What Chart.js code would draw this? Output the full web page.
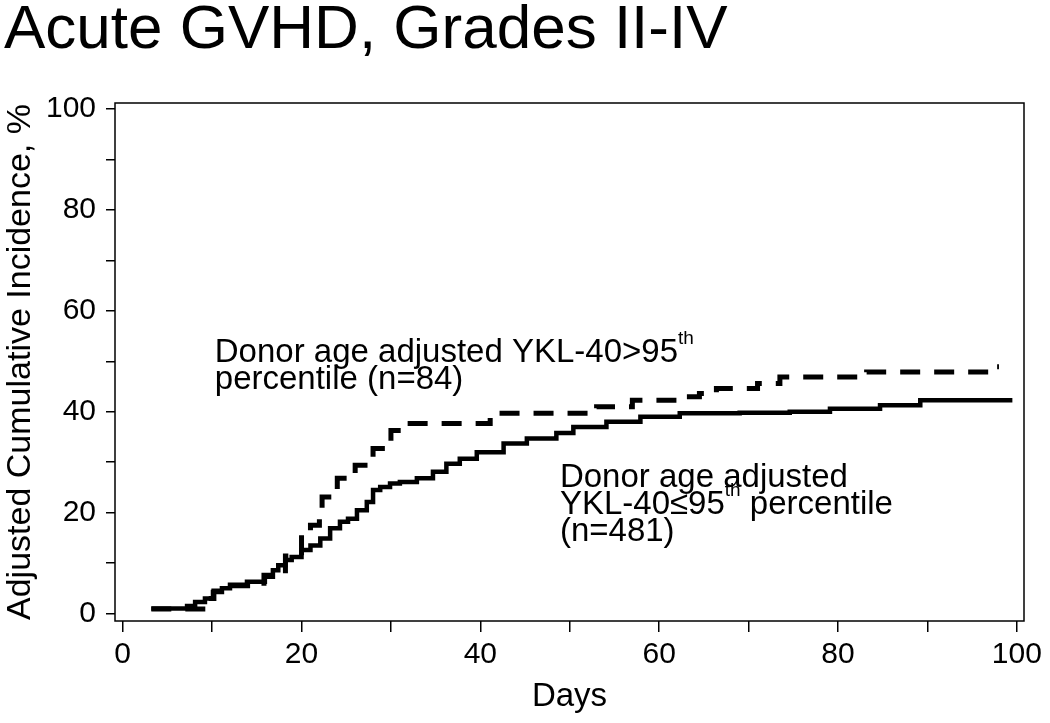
<!DOCTYPE html>
<html>
<head>
<meta charset="utf-8">
<script src="https://cdn.jsdelivr.net/npm/chart.js@4.4.1/dist/chart.umd.min.js"></script>
<style>
  body { margin: 0; background: #fff; }
</style>
</head>
<body>
<canvas id="chart" width="1050" height="723"></canvas>
<script>
// Adjusted cumulative incidence (%) by day, step points = (event day, new value)
const lowDays = [3.2, 7.2, 8.1, 9.2, 10.1, 11.1, 12.0, 13.9, 15.9, 16.8, 17.4, 18.2, 18.9, 20.0, 21.0, 22.1, 23.2, 24.3, 25.2, 26.2, 27.3, 28.0, 28.8, 29.9, 31.0, 32.9, 34.7, 36.2, 37.7, 39.6, 42.6, 45.2, 48.5, 50.4, 54.1, 57.9, 62.3, 69.0, 74.6, 79.1, 84.7, 89.2, 99.5];
const lowPct  = [1.0, 1.5, 2.3, 3.0, 4.3, 5.0, 5.7, 6.3, 7.3, 8.6, 9.6, 10.6, 11.2, 12.6, 13.5, 14.9, 16.9, 18.2, 18.8, 20.5, 22.1, 24.5, 25.1, 25.8, 26.1, 26.8, 28.1, 29.7, 30.7, 32.0, 33.7, 34.7, 35.8, 37.0, 38.0, 39.0, 39.7, 39.8, 40.0, 40.6, 41.3, 42.3, 42.3];

const highDays = [3.2, 9.3, 10.2, 11.5, 15.8, 18.2, 20.0, 21.0, 22.0, 22.3, 24.0, 26.0, 27.4, 28.0, 29.4, 30.0, 31.3, 41.1, 53.0, 57.0, 62.0, 64.5, 66.4, 71.0, 73.5, 83.2, 97.0, 98.0];
const highPct  = [0.9, 3.0, 4.5, 5.5, 7.6, 11.4, 15.9, 17.5, 19.2, 23.1, 26.8, 29.4, 30.4, 32.7, 34.0, 36.3, 37.7, 39.7, 41.0, 42.3, 43.0, 43.6, 44.6, 45.6, 46.9, 47.9, 48.9, 48.9];

const xTicks = [0, 10, 20, 30, 40, 50, 60, 70, 80, 90, 100];
const xTickLabels = ['0', '', '20', '', '40', '', '60', '', '80', '', '100'];
const yTicks = [0, 10, 20, 30, 40, 50, 60, 70, 80, 90, 100];
const yTickLabels = ['0', '', '20', '', '40', '', '60', '', '80', '', '100'];

// text segments: [text, superscript]
const highLabel = [
  [['Donor age adjusted YKL-40>95', false], ['th', true]],
  [['percentile (n=84)', false]]
];
const lowLabel = [
  [['Donor age adjusted', false]],
  [['YKL-40\u226495', false], ['th', true], [' percentile', false]],
  [['(n=481)', false]]
];

const FONT = '"Liberation Sans", Arial, sans-serif';

const toPoints = (xs, ys) => xs.map((d, i) => ({ x: d, y: ys[i] }));

const frame = {
  id: 'frame',
  afterDraw(chart) {
    const { ctx, chartArea: a } = chart;
    ctx.save();
    ctx.strokeStyle = '#000';
    ctx.lineWidth = 1.5;
    ctx.strokeRect(a.left, a.top, a.right - a.left, a.bottom - a.top);
    ctx.restore();
  }
};

const labels = {
  id: 'labels',
  afterDatasetsDraw(chart) {
    const { ctx, scales: { x, y } } = chart;
    const draw = (lines, day, pct) => {
      const px = x.getPixelForValue(day);
      const py = y.getPixelForValue(pct);
      lines.forEach((line, i) => {
        let cx = px;
        line.forEach(([txt, sup]) => {
          ctx.font = (sup ? '19px ' : '33px ') + FONT;
          ctx.fillText(txt, cx, py + i * 27 - (sup ? 18 : 0));
          cx += ctx.measureText(txt).width;
        });
      });
    };
    ctx.save();
    ctx.fillStyle = '#000';
    ctx.textBaseline = 'alphabetic';
    draw(highLabel, 10.3, 49.9);
    draw(lowLabel, 48.9, 25.1);
    ctx.restore();
  }
};

new Chart(document.getElementById('chart'), {
  type: 'line',
  data: {
    datasets: [{
      label: 'YKL-40<=95th percentile (n=481)',
      data: toPoints(lowDays, lowPct),
      borderColor: '#000',
      borderWidth: 4.5,
      stepped: true,
      pointRadius: 0,
    }, {
      label: 'YKL-40>95th percentile (n=84)',
      data: toPoints(highDays, highPct),
      borderColor: '#000',
      borderWidth: 5,
      borderDash: [20, 14],
      borderCapStyle: 'butt',
      stepped: true,
      pointRadius: 0,
    }]
  },
  options: {
    responsive: false,
    animation: false,
    layout: { padding: { left: 4, right: 26, top: 0, bottom: 0 } },
    scales: {
      x: {
        type: 'linear',
        min: -0.86,
        max: 100.8,
        afterBuildTicks: (scale) => { scale.ticks = xTicks.map(v => ({ value: v })); },
        afterFit: (scale) => { scale.height = 102; },
        grid: { drawOnChartArea: false, drawTicks: true, tickLength: 11, color: '#000', lineWidth: 1.5 },
        border: { display: false },
        ticks: {
          color: '#000',
          font: { family: FONT, size: 30 },
          padding: 5,
          maxRotation: 0,
          autoSkip: false,
          callback: (v) => xTickLabels[xTicks.indexOf(v)] ?? '',
        },
        title: {
          display: true,
          text: 'Days',
          color: '#000',
          font: { family: FONT, size: 33, lineHeight: 1 },
          padding: { top: 0, bottom: 10 },
        },
      },
      y: {
        min: -1.47,
        max: 101.2,
        afterBuildTicks: (scale) => { scale.ticks = yTicks.map(v => ({ value: v })); },
        afterFit: (scale) => { scale.width = 111; },
        grid: { drawOnChartArea: false, drawTicks: true, tickLength: 9, color: '#000', lineWidth: 1.5 },
        border: { display: false },
        ticks: {
          color: '#000',
          font: { family: FONT, size: 30 },
          padding: 10,
          autoSkip: false,
          callback: (v) => yTickLabels[yTicks.indexOf(v)] ?? '',
        },
        title: {
          display: true,
          text: 'Adjusted Cumulative Incidence, %',
          color: '#000',
          font: { family: FONT, size: 34, lineHeight: 1 },
          padding: { top: 0, bottom: 0 },
        },
      },
    },
    plugins: {
      legend: { display: false },
      tooltip: { enabled: false },
      title: {
        display: true,
        text: 'Acute GVHD, Grades II-IV',
        align: 'start',
        color: '#000',
        font: { family: FONT, size: 62, weight: 'normal', lineHeight: 1 },
        padding: { top: 0, bottom: 41 },
      },
    },
  },
  plugins: [frame, labels],
});
</script>
</body>
</html>
